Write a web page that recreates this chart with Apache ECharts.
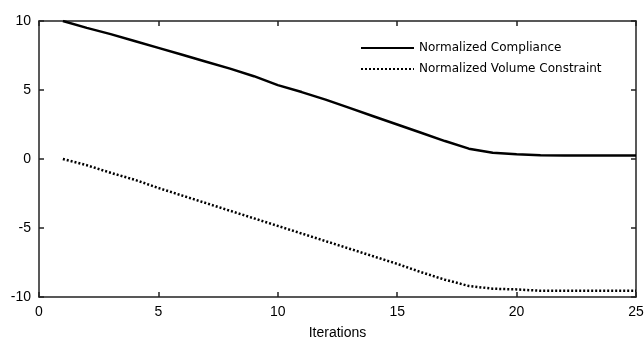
<!DOCTYPE html>
<html>
<head>
<meta charset="utf-8">
<script src="https://cdn.jsdelivr.net/npm/echarts@6/dist/echarts.min.js"></script>
<style>
  html, body { margin: 0; padding: 0; background: #fff; }
  #chart { width: 644px; height: 341px; }
</style>
</head>
<body>
<div id="chart"></div>
<script>
const iterations = [1, 2, 3, 4, 5, 6, 7, 8, 9, 10, 11, 12, 13, 14, 15, 16, 17, 18, 19, 20, 21, 22, 23, 24, 25];
const compliance = [10.0, 9.5, 9.05, 8.55, 8.05, 7.55, 7.05, 6.55, 6.0, 5.35, 4.85, 4.3, 3.7, 3.1, 2.5, 1.9, 1.3, 0.75, 0.45, 0.35, 0.28, 0.25, 0.25, 0.25, 0.25];
const volume = [0, -0.45, -1.0, -1.5, -2.1, -2.65, -3.2, -3.75, -4.3, -4.85, -5.4, -5.95, -6.5, -7.05, -7.6, -8.2, -8.75, -9.2, -9.4, -9.45, -9.55, -9.55, -9.55, -9.55, -9.55];

const font = "Liberation Sans, Arial, sans-serif";
const chart = echarts.init(document.getElementById("chart"));

const axisLine = { show: true, onZero: false, lineStyle: { color: "#222", width: 1.5 } };
const axisTick = { show: true, inside: true, length: 5, lineStyle: { color: "#222", width: 1.5 } };

const option = {
  animation: false,
  grid: { left: 39, right: 8, top: 21, bottom: 44, outerBoundsMode: "none" },
  legend: {
    orient: "vertical",
    left: 355,
    top: 37,
    itemWidth: 53,
    itemHeight: 14,
    itemGap: 9,
    itemStyle: { opacity: 0 },
    textStyle: { fontFamily: "DejaVu Sans, sans-serif", fontSize: 12, color: "#000" },
    data: ["Normalized Compliance", "Normalized Volume Constraint"]
  },
  xAxis: [
    {
      type: "value",
      min: 0,
      max: 25,
      interval: 5,
      name: "Iterations",
      nameLocation: "middle",
      nameGap: 29,
      nameTextStyle: { fontFamily: font, fontSize: 14, color: "#000" },
      axisLine,
      axisTick,
      splitLine: { show: false },
      axisLabel: { fontFamily: font, fontSize: 14, color: "#000", margin: 8 }
    },
    {
      type: "value",
      position: "top",
      min: 0,
      max: 25,
      interval: 5,
      axisLine,
      axisTick,
      splitLine: { show: false },
      axisLabel: { show: false }
    }
  ],
  yAxis: [
    {
      type: "value",
      min: -10,
      max: 10,
      interval: 5,
      axisLine,
      axisTick,
      splitLine: { show: false },
      axisLabel: { fontFamily: font, fontSize: 14, color: "#000", margin: 8 }
    },
    {
      type: "value",
      position: "right",
      min: -10,
      max: 10,
      interval: 5,
      axisLine,
      axisTick,
      splitLine: { show: false },
      axisLabel: { show: false }
    }
  ],
  series: [
    {
      name: "Normalized Compliance",
      type: "line",
      symbol: "none",
      data: iterations.map((x, i) => [x, compliance[i]]),
      lineStyle: { color: "#000", width: 2.5 },
      itemStyle: { color: "#000" }
    },
    {
      name: "Normalized Volume Constraint",
      type: "line",
      symbol: "none",
      data: iterations.map((x, i) => [x, volume[i]]),
      lineStyle: { color: "#000", width: 2.5, type: [2, 2] },
      itemStyle: { color: "#000" }
    }
  ]
};

chart.setOption(option);
</script>
</body>
</html>
